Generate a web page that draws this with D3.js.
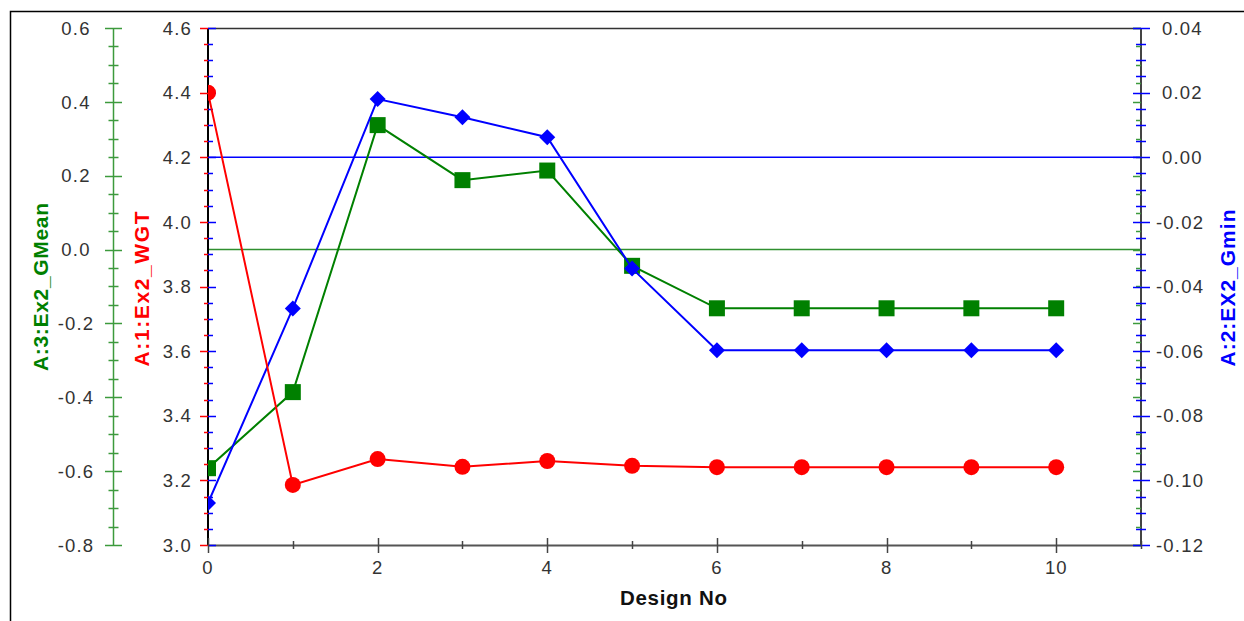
<!DOCTYPE html>
<html>
<head>
<meta charset="utf-8">
<script src="https://cdn.jsdelivr.net/npm/d3@7"></script>
<style>
  html, body { margin: 0; padding: 0; background: #fff; }
  svg { display: block; font-family: Arial, "Liberation Sans", sans-serif; }
</style>
</head>
<body>
<svg id="chart" width="1244" height="621"></svg>
<script>
// ---- data ----
const designNo = [0, 1, 2, 3, 4, 5, 6, 7, 8, 9, 10];
const wgt   = [4.40, 3.186, 3.266, 3.242, 3.26, 3.245, 3.241, 3.241, 3.241, 3.241, 3.241];
const gmin  = [-0.107, -0.0468, 0.018, 0.0124, 0.0062, -0.0344, -0.0597, -0.0597, -0.0597, -0.0597, -0.0597];
const gmean = [-0.592, -0.386, 0.337, 0.188, 0.214, -0.044, -0.159, -0.159, -0.159, -0.159, -0.159];

const xTicks = [0, 2, 4, 6, 8, 10];
const xMinor = [1, 3, 5, 7, 9, 11];
const wgtTicks = [3.0, 3.2, 3.4, 3.6, 3.8, 4.0, 4.2, 4.4, 4.6];
const gmeanTicks = [-0.8, -0.6, -0.4, -0.2, 0.0, 0.2, 0.4, 0.6];
const gminTicks = [-0.12, -0.10, -0.08, -0.06, -0.04, -0.02, 0.00, 0.02, 0.04];
const refGmin = 0.0;
const refGmean = 0.0;

// ---- layout ----
const L = 208, R = 1141, T = 28, B = 545;
const svg = d3.select("#chart");

const x = d3.scaleLinear().domain([0, 11]).range([L, R]);
const yW = d3.scaleLinear().domain([3.0, 4.6]).range([B, T]);
const yG = d3.scaleLinear().domain([-0.8, 0.6]).range([B, T]);
const yB = d3.scaleLinear().domain([-0.12, 0.04]).range([B, T]);

const GREEN = "#008000", GREEN_AX = "#3c9a3c", RED = "#ff0000", BLUE = "#0000ff";
const TXT = "#333";
const fmt = (f) => (d) => d3.format(f)(d).replace("\u2212", "-");

// outer border
svg.append("rect").attr("x", 10.5).attr("y", 11.5).attr("width", 1400).attr("height", 800)
  .attr("fill", "none").attr("stroke", "#000").attr("stroke-width", 1.5);

function range(a, b, s) { const out = []; const n = Math.round((b - a) / s); for (let i = 0; i <= n; i++) out.push(a + i * s); return out; }

// ---- reference lines ----
svg.append("line").attr("x1", L).attr("x2", R).attr("y1", yB(refGmin)).attr("y2", yB(refGmin))
  .attr("stroke", BLUE).attr("stroke-width", 1.4);
svg.append("line").attr("x1", L).attr("x2", R).attr("y1", yG(refGmean)).attr("y2", yG(refGmean))
  .attr("stroke", "#2f8f2f").attr("stroke-width", 1.4);

// ---- frame ----
svg.append("line").attr("x1", L).attr("x2", R).attr("y1", T + 0.5).attr("y2", T + 0.5).attr("stroke", "#333").attr("stroke-width", 1.5);
svg.append("line").attr("x1", L).attr("x2", R).attr("y1", B + 0.5).attr("y2", B + 0.5).attr("stroke", "#555").attr("stroke-width", 2);
svg.append("line").attr("x1", L).attr("x2", L).attr("y1", T).attr("y2", B + 1).attr("stroke", "#000").attr("stroke-width", 2);
svg.append("line").attr("x1", R).attr("x2", R).attr("y1", T).attr("y2", B + 1).attr("stroke", "#444").attr("stroke-width", 2);

// ---- green axis (far left) ----
const gAx = svg.append("g");
gAx.append("line").attr("x1", 113.5).attr("x2", 113.5).attr("y1", T).attr("y2", B).attr("stroke", GREEN_AX).attr("stroke-width", 1.5);
const gMinorVals = range(-0.8, 0.6, 0.05);
gAx.selectAll("line.mn").data(gMinorVals).enter().append("line")
  .attr("x1", (d) => Math.abs(Math.round(d * 100) % 20) === 0 ? 105 : 108.5)
  .attr("x2", (d) => Math.abs(Math.round(d * 100) % 20) === 0 ? 122 : 118.5)
  .attr("y1", (d) => Math.round(yG(d)) + 0.5).attr("y2", (d) => Math.round(yG(d)) + 0.5)
  .attr("stroke", GREEN_AX).attr("stroke-width", 1.5);
gAx.selectAll("text").data(gmeanTicks).enter().append("text")
  .attr("x", 76).attr("y", (d) => yG(d)).attr("dy", "0.36em")
  .attr("text-anchor", "middle").attr("fill", TXT).attr("font-size", 18.5).attr("letter-spacing", 1.2)
  .text(fmt(".1f"));

// ---- left (red) axis with blue ticks inside ----
const redMinor = range(3.0, 4.6, 0.05);
svg.append("g").selectAll("line").data(redMinor).enter().append("line")
  .attr("x1", (d) => Math.abs(Math.round(d * 100) % 20) === 0 ? 200 : 204)
  .attr("x2", L)
  .attr("y1", (d) => Math.round(yW(d)) + 0.5).attr("y2", (d) => Math.round(yW(d)) + 0.5)
  .attr("stroke", RED).attr("stroke-width", 1.5);
const blueMinor = range(-0.12, 0.04, 0.005);
svg.append("g").selectAll("line").data(blueMinor).enter().append("line")
  .attr("x1", L)
  .attr("x2", (d) => Math.abs(Math.round(d * 1000) % 20) === 0 ? L + 8 : L + 5)
  .attr("y1", (d) => Math.round(yB(d)) + 0.5).attr("y2", (d) => Math.round(yB(d)) + 0.5)
  .attr("stroke", BLUE).attr("stroke-width", 1.5);
svg.append("g").selectAll("text").data(wgtTicks).enter().append("text")
  .attr("x", 192).attr("y", (d) => yW(d)).attr("dy", "0.36em")
  .attr("text-anchor", "end").attr("fill", TXT).attr("font-size", 18.5).attr("letter-spacing", 1.2)
  .text(fmt(".1f"));

// ---- right (blue) axis with green ticks inside ----
svg.append("g").selectAll("line").data(gMinorVals).enter().append("line")
  .attr("x1", (d) => Math.abs(Math.round(d * 100) % 20) === 0 ? R - 8 : R - 5)
  .attr("x2", R)
  .attr("y1", (d) => Math.round(yG(d)) + 0.5).attr("y2", (d) => Math.round(yG(d)) + 0.5)
  .attr("stroke", GREEN_AX).attr("stroke-width", 1.5);
svg.append("g").selectAll("line").data(blueMinor).enter().append("line")
  .attr("x1", (d) => Math.abs(Math.round(d * 1000) % 20) === 0 ? R - 8 : R - 5)
  .attr("x2", (d) => Math.abs(Math.round(d * 1000) % 20) === 0 ? R + 9 : R + 5)
  .attr("y1", (d) => Math.round(yB(d)) + 0.5).attr("y2", (d) => Math.round(yB(d)) + 0.5)
  .attr("stroke", BLUE).attr("stroke-width", 1.5);
svg.append("g").selectAll("text").data(gminTicks).enter().append("text")
  .attr("x", (d) => d < -1e-9 ? 1156 : 1162).attr("y", (d) => yB(d)).attr("dy", "0.36em")
  .attr("text-anchor", "start").attr("fill", TXT).attr("font-size", 18.5).attr("letter-spacing", 1.2)
  .text(fmt(".2f"));

// ---- x axis ----
const xg = svg.append("g");
xg.selectAll("line.mj").data(xTicks).enter().append("line")
  .attr("x1", (d) => Math.round(x(d)) + 0.5).attr("x2", (d) => Math.round(x(d)) + 0.5)
  .attr("y1", B - 7).attr("y2", B + 8).attr("stroke", "#444").attr("stroke-width", 1.5);
xg.selectAll("line.mn").data(xMinor).enter().append("line")
  .attr("x1", (d) => Math.round(x(d)) + 0.5).attr("x2", (d) => Math.round(x(d)) + 0.5)
  .attr("y1", B - 4).attr("y2", B + 4).attr("stroke", "#444").attr("stroke-width", 1.5);
xg.selectAll("text").data(xTicks).enter().append("text")
  .attr("x", (d) => x(d)).attr("y", 567).attr("dy", "0.36em")
  .attr("text-anchor", "middle").attr("fill", TXT).attr("font-size", 18.5).attr("letter-spacing", 1)
  .text((d) => d);
svg.append("text").attr("x", (L + R) / 2 - 1).attr("y", 598).attr("dy", "0.36em")
  .attr("text-anchor", "middle").attr("font-weight", "bold").attr("font-size", 20.5)
  .attr("textLength", 107).attr("lengthAdjust", "spacing")
  .attr("fill", "#111").text("Design No");

// ---- axis titles ----
function vtitle(cx, cy, color, txt, len) {
  svg.append("text").attr("transform", `translate(${cx},${cy}) rotate(-90)`)
    .attr("text-anchor", "middle").attr("dy", "0.36em")
    .attr("font-weight", "bold").attr("font-size", 21).attr("fill", color)
    .attr("textLength", len).attr("lengthAdjust", "spacing")
    .text(txt);
}
vtitle(40, 287, GREEN, "A:3:Ex2_GMean", 168);
vtitle(141, 289, RED, "A:1:Ex2_WGT", 155);
vtitle(1227, 288, BLUE, "A:2:EX2_Gmin", 157);

// ---- series ----
svg.append("defs").append("clipPath").attr("id", "plotClip")
  .append("rect").attr("x", L).attr("y", T - 10).attr("width", R - L + 10).attr("height", B - T + 10);
const plot = svg.append("g").attr("clip-path", "url(#plotClip)");

// green GMean
plot.append("path").datum(designNo)
  .attr("d", d3.line().x((d) => x(d)).y((d, i) => yG(gmean[i])))
  .attr("fill", "none").attr("stroke", GREEN).attr("stroke-width", 2);
plot.selectAll("rect.g").data(designNo).enter().append("rect")
  .attr("x", (d) => x(d) - 8).attr("y", (d, i) => yG(gmean[i]) - 8)
  .attr("width", 16).attr("height", 16).attr("fill", GREEN);

// blue Gmin
plot.append("path").datum(designNo)
  .attr("d", d3.line().x((d) => x(d)).y((d, i) => yB(gmin[i])))
  .attr("fill", "none").attr("stroke", BLUE).attr("stroke-width", 2);
plot.selectAll("path.b").data(designNo).enter().append("path")
  .attr("d", (d, i) => { const cx = x(d), cy = yB(gmin[i]); return `M${cx},${cy - 8}L${cx + 8},${cy}L${cx},${cy + 8}L${cx - 8},${cy}Z`; })
  .attr("fill", BLUE);

// red WGT
plot.append("path").datum(designNo)
  .attr("d", d3.line().x((d) => x(d)).y((d, i) => yW(wgt[i])))
  .attr("fill", "none").attr("stroke", RED).attr("stroke-width", 2);
plot.selectAll("circle").data(designNo).enter().append("circle")
  .attr("cx", (d) => x(d)).attr("cy", (d, i) => yW(wgt[i])).attr("r", 8)
  .attr("fill", RED);
</script>
</body>
</html>
